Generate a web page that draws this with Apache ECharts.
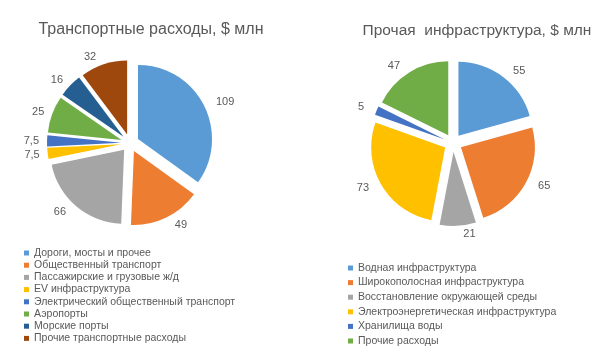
<!DOCTYPE html>
<html><head><meta charset="utf-8">
<script src="https://cdn.jsdelivr.net/npm/echarts@6/dist/echarts.min.js"></script>
<style>html,body{margin:0;padding:0;background:#fff}#c{width:600px;height:355px}</style>
</head><body><div id="c"></div>
<script>
const leftTitle = 'Транспортные расходы, $ млн';
const leftNames = ['Дороги, мосты и прочее','Общественный транспорт','Пассажирские и грузовые ж/д','EV инфраструктура','Электрический общественный транспорт','Аэропорты','Морские порты','Прочие транспортные расходы'];
const leftValues = [109, 49, 66, 7.5, 7.5, 25, 16, 32];
const leftColors = ['#5B9BD5','#ED7D31','#A5A5A5','#FFC000','#4472C4','#70AD47','#255E91','#9E480E'];

const rightTitle = 'Прочая  инфраструктура, $ млн';
const rightNames = ['Водная инфраструктура','Широкополосная инфраструктура','Восстановление окружающей среды','Электроэнергетическая инфраструктура','Хранилища воды','Прочие расходы'];
const rightValues = [55, 65, 21, 73, 5, 47];
const rightColors = ['#5B9BD5','#ED7D31','#A5A5A5','#FFC000','#4472C4','#70AD47'];

const FONT = 'Liberation Sans';
const TXT = '#595959';

function mk(names, values, colors) {
  return names.map((n, i) => ({name: n, value: values[i], selected: true, itemStyle: {color: colors[i]}}));
}
function pie(names, values, colors, center) {
  return {
    type: 'pie', center: center, radius: 74, startAngle: 90, clockwise: true,
    selectedMode: 'multiple', selectedOffset: 9,
    data: mk(names, values, colors),
    label: {show: true, position: 'outside', color: TXT, fontSize: 11, fontFamily: FONT,
      formatter: p => String(p.value).replace('.', ',')},
    labelLine: {show: false, length: 8, length2: 0},
    emphasis: {disabled: true}
  };
}
const chart = echarts.init(document.getElementById('c'), null, {renderer: 'canvas'});
chart.setOption({
  animation: false,
  backgroundColor: '#fff',
  title: [
    {text: leftTitle, left: 146, top: 17, textAlign: 'center', textStyle: {color: TXT, fontSize: 16, fontWeight: 'normal', fontFamily: FONT}},
    {text: rightTitle, left: 472, top: 18, textAlign: 'center', textStyle: {color: TXT, fontSize: 15.5, fontWeight: 'normal', fontFamily: FONT}}
  ],
  legend: [
    {data: leftNames, orient: 'vertical', left: 24, top: 247, padding: 0, icon: 'rect', itemWidth: 5, itemHeight: 5, itemGap: 0.2,
      selectedMode: false, textStyle: {color: TXT, fontSize: 10.5, fontFamily: FONT, lineHeight: 12}},
    {data: rightNames, orient: 'vertical', left: 348, top: 262, padding: 0, icon: 'rect', itemWidth: 5, itemHeight: 5, itemGap: 2.6,
      selectedMode: false, textStyle: {color: TXT, fontSize: 10.5, fontFamily: FONT, lineHeight: 12}}
  ],
  series: [
    pie(leftNames, leftValues, leftColors, [130, 143]),
    pie(rightNames, rightValues, rightColors, [453, 143])
  ]
});
</script></body></html>
